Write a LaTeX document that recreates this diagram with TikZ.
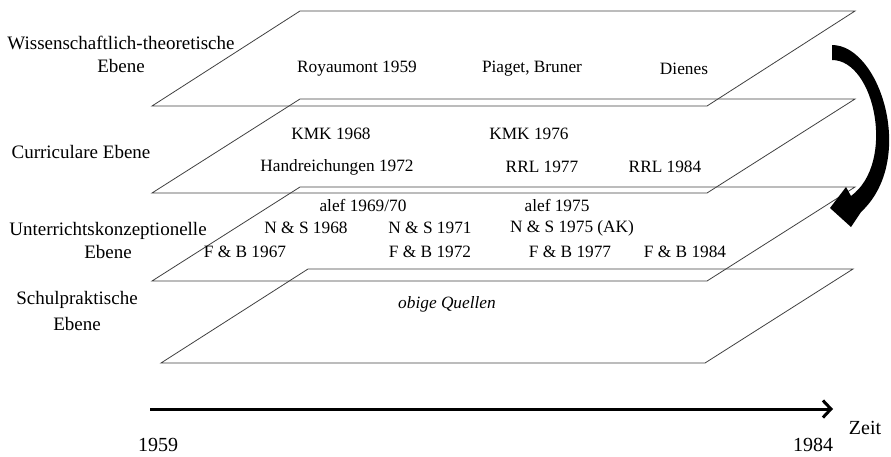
\documentclass[tikz,border=0pt]{standalone}
\usepackage{fontspec}
\setmainfont{Liberation Serif}
\usetikzlibrary{arrows.meta}

\begin{document}
\begin{tikzpicture}[x=1pt,y=-1pt,
  plane/.style={draw=black!75, line width=0.8pt},
  levellabel/.style={font=\fontsize{19}{23}\selectfont, align=center, inner sep=0pt},
  entry/.style={font=\fontsize{17.3}{20}\selectfont, inner sep=0pt},
  yearlabel/.style={font=\fontsize{20}{22}\selectfont, inner sep=0pt},
  timeline/.style={line width=3pt, -{Straight Barb[length=8pt,width=17pt]}}]
\useasboundingbox (0,0) rectangle (891,456);

% Draw the four planes
\draw[plane] (152,106) -- (300,11) -- (855,11) -- (707,106) -- cycle;
\draw[plane] (152,193) -- (300,99) -- (855,99) -- (707,193) -- cycle;
\draw[plane] (152,281) -- (300,187) -- (855,187) -- (707,281) -- cycle;
\draw[plane] (161,363) -- (308,269) -- (853,269) -- (705,363) -- cycle;

% Level names on the left
\node[levellabel] (wiss) at (121,54) {Wissenschaftlich-theoretische\\Ebene};
\node[levellabel] (curr) at (81,152) {Curriculare Ebene};
\node[levellabel] (unter) at (108,240) {Unterrichtskonzeptionelle\\Ebene};
\node[levellabel] (schul) at (77,311) {Schulpraktische\\[3pt]Ebene};

% Entries of each plane
\node[entry] (royaumont) at (357,69) {Royaumont 1959};
\node[entry] (piaget) at (532,69) {Piaget, Bruner};
\node[entry] (dienes) at (684,69) {Dienes};

\node[entry] (kmka) at (331,134) {KMK 1968};
\node[entry] (kmkb) at (529,134) {KMK 1976};
\node[entry] (hand) at (337,167) {Handreichungen 1972};
\node[entry] (rrla) at (542,167) {RRL 1977};
\node[entry] (rrlb) at (665,167) {RRL 1984};

\node[entry] (alefa) at (363,205) {alef 1969/70};
\node[entry] (alefb) at (557,205) {alef 1975};
\node[entry] (nsa) at (306,228) {N \& S 1968};
\node[entry] (nsb) at (430,228) {N \& S 1971};
\node[entry] (nsc) at (572,228) {N \& S 1975 (AK)};
\node[entry] (fba) at (245,252) {F \& B 1967};
\node[entry] (fbb) at (430,252) {F \& B 1972};
\node[entry] (fbc) at (570,252) {F \& B 1977};
\node[entry] (fbd) at (685,252) {F \& B 1984};

\node[entry, font=\fontsize{17.3}{20}\selectfont\itshape] (quellen) at (447,304) {obige Quellen};

% Curved arrow from the top plane down to the third
\fill (832,45) .. controls (880,45) and (917,160) .. (861,212)
  -- (851,227) -- (830,208) -- (846,187) -- (851,196)
  .. controls (896,163) and (875,60) .. (832,60) -- cycle;

% Time axis
\coordinate (t0) at (150,409);
\coordinate (t1) at (833,409);
\draw[timeline] (t0) -- (t1);
\node[yearlabel] (zeit) at (865,428) {Zeit};
\node[yearlabel] (ystart) at (158,445) {1959};
\node[yearlabel] (yend) at (813,445) {1984};
\end{tikzpicture}
\end{document}
